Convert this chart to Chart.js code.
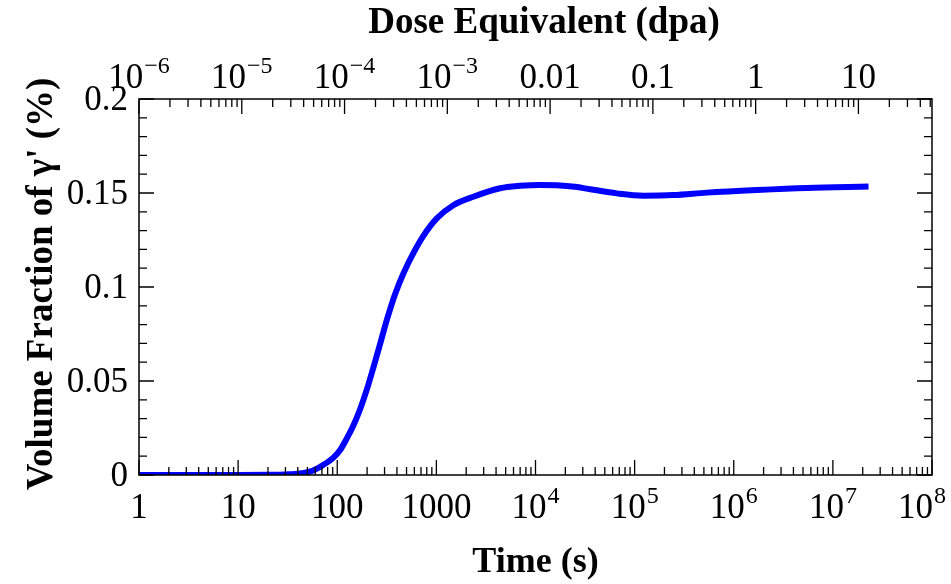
<!DOCTYPE html>
<html>
<head>
<meta charset="utf-8">
<script src="https://cdn.jsdelivr.net/npm/chart.js@4.4.1/dist/chart.umd.min.js"></script>
<style>
  html, body { margin: 0; padding: 0; background: #fff; }
  #wrap { width: 951px; height: 584px; }
</style>
</head>
<body>
<div id="wrap"><canvas id="gammaChart" width="951" height="584"></canvas></div>
<script>
// =============================
// DATA
// =============================
const timeS = [1, 10, 20, 30, 42, 57, 72, 92, 107, 125, 145, 170, 199, 231, 270, 316, 383, 465, 586, 739, 1009, 1485, 2362, 4397, 7000, 11130, 16400, 25000, 35600, 66100, 122700, 246500, 534500, 1.71e6, 5.47e6, 2.29e7];
const volFraction = [0, 0, 0.0001, 0.0003, 0.0008, 0.0024, 0.0053, 0.0094, 0.0133, 0.0195, 0.0262, 0.0350, 0.0455, 0.0570, 0.0695, 0.0824, 0.0962, 0.1072, 0.1180, 0.1272, 0.1365, 0.1435, 0.148, 0.1525, 0.1538, 0.1543, 0.1541, 0.1533, 0.1520, 0.1498, 0.1486, 0.1489, 0.1502, 0.1516, 0.1527, 0.1534];

const timeTicks = [1, 10, 100, 1000, 1e4, 1e5, 1e6, 1e7, 1e8];
const timeLabels = [['1',''], ['10',''], ['100',''], ['1000',''], ['10','4'], ['10','5'], ['10','6'], ['10','7'], ['10','8']];
const doseTicks = [1e-6, 1e-5, 1e-4, 1e-3, 0.01, 0.1, 1, 10];
const doseLabels = [['10','\u22126'], ['10','\u22125'], ['10','\u22124'], ['10','\u22123'], ['0.01',''], ['0.1',''], ['1',''], ['10','']];
const fracTicks = [0, 0.05, 0.1, 0.15, 0.2];
const fracLabels = ['0', '0.05', '0.1', '0.15', '0.2'];

const SERIF = "'Liberation Serif', 'Times New Roman', serif";

// =============================
// HELPERS
// =============================
function drawSupLabel(ctx, base, sup, cx, baseline) {
    ctx.font = '35px ' + SERIF;
    let wb = ctx.measureText(base).width;
    ctx.font = '24px ' + SERIF;
    let ws = sup ? ctx.measureText(sup).width + 1 : 0;
    let x0 = cx - (wb + ws) / 2;
    // keep the last label inside the canvas, like the original
    if (x0 + wb + ws > 946) x0 = 946 - wb - ws;
    ctx.textAlign = 'left';
    ctx.textBaseline = 'alphabetic';
    ctx.font = '35px ' + SERIF;
    ctx.fillText(base, x0, baseline);
    if (sup) {
        ctx.font = '24px ' + SERIF;
        ctx.fillText(sup, x0 + wb + 1, baseline - 15);
    }
}

function logMinors(min, max) {
    let out = [];
    let start = Math.floor(Math.log10(min));
    let end = Math.ceil(Math.log10(max));
    for (let e = start; e <= end; e++) {
        for (let m = 2; m <= 9; m++) {
            let v = m * Math.pow(10, e);
            if (v > min && v < max) out.push(v);
        }
    }
    return out;
}

// =============================
// AXES PLUGIN (frame, inward ticks, labels, titles)
// =============================
const axesPlugin = {
    id: 'axesPlugin',
    afterDatasetsDraw(chart) {
        const ctx = chart.ctx;
        const a = chart.chartArea;
        const xs = chart.scales.x, xt = chart.scales.xDose, ys = chart.scales.y;
        const MAJ = 15, MIN = 8;
        ctx.save();
        ctx.strokeStyle = '#000';
        ctx.fillStyle = '#000';
        ctx.lineWidth = 1.5;
        ctx.strokeRect(a.left, a.top, a.right - a.left, a.bottom - a.top);

        ctx.lineWidth = 1.3;
        ctx.beginPath();
        // bottom axis
        timeTicks.forEach(v => {
            let px = xs.getPixelForValue(v);
            ctx.moveTo(px, a.bottom); ctx.lineTo(px, a.bottom - MAJ);
        });
        logMinors(xs.min, xs.max).forEach(v => {
            let px = xs.getPixelForValue(v);
            ctx.moveTo(px, a.bottom); ctx.lineTo(px, a.bottom - MIN);
        });
        // top axis
        doseTicks.forEach(v => {
            let px = xt.getPixelForValue(v);
            ctx.moveTo(px, a.top); ctx.lineTo(px, a.top + MAJ);
        });
        logMinors(xt.min, xt.max).forEach(v => {
            let px = xt.getPixelForValue(v);
            ctx.moveTo(px, a.top); ctx.lineTo(px, a.top + MIN);
        });
        // left + right axes
        for (let i = 0; i <= 20; i++) {
            let py = ys.getPixelForValue(i * 0.01);
            let len = (i % 5 === 0) ? MAJ : MIN;
            ctx.moveTo(a.left, py); ctx.lineTo(a.left + len, py);
            ctx.moveTo(a.right, py); ctx.lineTo(a.right - len, py);
        }
        ctx.stroke();

        // tick labels
        timeTicks.forEach((v, i) => {
            drawSupLabel(ctx, timeLabels[i][0], timeLabels[i][1], xs.getPixelForValue(v), a.bottom + 43);
        });
        doseTicks.forEach((v, i) => {
            drawSupLabel(ctx, doseLabels[i][0], doseLabels[i][1], xt.getPixelForValue(v), a.top - 11);
        });
        ctx.font = '35px ' + SERIF;
        ctx.textAlign = 'right';
        ctx.textBaseline = 'alphabetic';
        fracTicks.forEach((v, i) => {
            ctx.fillText(fracLabels[i], a.left - 11, ys.getPixelForValue(v) + 11);
        });

        // axis titles
        ctx.textAlign = 'center';
        ctx.font = 'bold 36px ' + SERIF;
        ctx.fillText('Time (s)', (a.left + a.right) / 2, 572);
        ctx.font = 'bold 37px ' + SERIF;
        ctx.fillText('Dose Equivalent (dpa)', 544, 33);
        ctx.translate(52, 284);
        ctx.rotate(-Math.PI / 2);
        ctx.fillText("Volume Fraction of \u03b3' (%)", 0, 0);
        ctx.restore();
    }
};

// =============================
// CHART
// =============================
const ctx1 = document.getElementById('gammaChart');
new Chart(ctx1, {
    type: 'line',
    data: {
        datasets: [{
            data: timeS.map((t, i) => ({ x: t, y: volFraction[i] })),
            borderColor: '#0000ff',
            borderWidth: 6,
            pointRadius: 0,
            fill: false,
            cubicInterpolationMode: 'monotone',
            clip: 0
        }]
    },
    options: {
        responsive: false,
        animation: false,
        layout: { padding: { left: 139, right: 19, top: 99, bottom: 109 } },
        plugins: { legend: { display: false }, tooltip: { enabled: false } },
        scales: {
            x: { type: 'logarithmic', min: 1, max: 1e8, display: false },
            xDose: { type: 'logarithmic', position: 'top', min: 1e-6, max: 52, display: false },
            y: { type: 'linear', min: 0, max: 0.2, display: false }
        }
    },
    plugins: [axesPlugin]
});
</script>
</body>
</html>
